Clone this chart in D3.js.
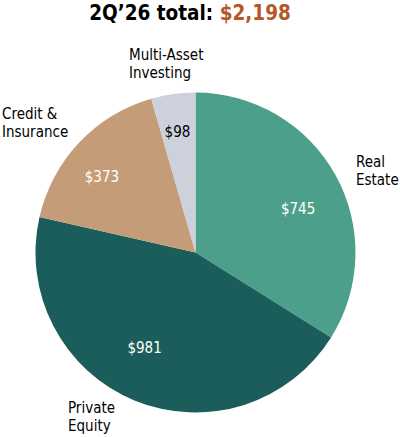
<!DOCTYPE html>
<html><head><meta charset="utf-8">
<script src="https://cdn.jsdelivr.net/npm/d3@7"></script>
<style>
html,body{margin:0;padding:0;background:#fff;}
svg text{font-family:"DejaVu Sans Condensed","DejaVu Sans",sans-serif;}
</style>
</head><body>
<svg id="c" width="400" height="437"></svg>
<script>
const categories = ["Real Estate", "Private Equity", "Credit & Insurance", "Multi-Asset Investing"];
const values = [745, 981, 373, 98];
const valueLabels = ["$745", "$981", "$373", "$98"];
const nameLines = [["Real", "Estate"], ["Private", "Equity"], ["Credit &", "Insurance"], ["Multi-Asset", "Investing"]];
const titleText = "2Q\u201926 total: ";
const totalText = "$2,198";

const colors = ["#4b9f8b", "#1b5d5a", "#c49c77", "#cdd1dc"];
const valueColors = ["#ffffff", "#ffffff", "#ffffff", "#000000"];
const nameAnchors = [[356, 167], [68, 413], [2, 119], [129, 60]];
const valueNudge = [[2, 12], [-7, -11], [-10, 3], [-2, -7]];

const svg = d3.select("#c");
const cx = 195.5, cy = 252.5, R = 160;

const t = svg.append("text").attr("x", 190).attr("y", 20).attr("text-anchor", "middle")
  .attr("font-size", 20.5).attr("font-weight", "bold");
t.append("tspan").attr("fill", "#000").text(titleText);
t.append("tspan").attr("fill", "#b5572a").text(totalText);

const pie = d3.pie().sort(null).value(d => d)(values);
const arc = d3.arc().innerRadius(0).outerRadius(R);
const labelArc = d3.arc().innerRadius(115).outerRadius(115);

const g = svg.append("g").attr("transform", `translate(${cx},${cy})`);
g.selectAll("path").data(pie).join("path")
  .attr("d", arc).attr("fill", (d, i) => colors[i]);

g.selectAll("text.v").data(pie).join("text").attr("class", "v")
  .attr("transform", (d, i) => {
    const c = labelArc.centroid(d);
    return `translate(${c[0] + valueNudge[i][0]},${c[1] + valueNudge[i][1]})`;
  })
  .attr("text-anchor", "middle").attr("dy", "0.35em")
  .attr("font-size", 15).attr("fill", (d, i) => valueColors[i])
  .text((d, i) => valueLabels[i]);

nameLines.forEach((lines, i) => {
  const tx = svg.append("text").attr("x", nameAnchors[i][0]).attr("y", nameAnchors[i][1])
    .attr("font-size", 15).attr("fill", "#000");
  lines.forEach((l, j) => tx.append("tspan").attr("x", nameAnchors[i][0]).attr("dy", j ? 18 : 0).text(l));
});
</script>
</body></html>
